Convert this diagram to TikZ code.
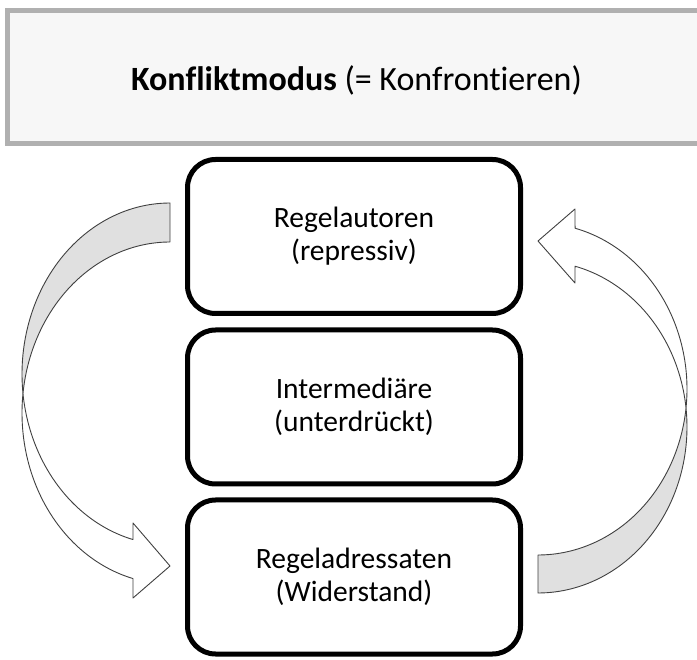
\documentclass[tikz,border=0pt]{standalone}
\usepackage{fontspec}
\setmainfont{Carlito}[Ligatures=CommonOff]
\definecolor{headfill}{HTML}{F7F7F7}
\definecolor{headline}{HTML}{B0B0B0}
\definecolor{tailgray}{HTML}{E0E0E0}
\definecolor{arrowline}{HTML}{404040}
\tikzset{
  stagebox/.style={draw=black, line width=5pt, rounded corners=28pt, fill=white,
    minimum width=333pt, minimum height=154pt, align=center,
    font=\fontsize{29.5}{33}\selectfont},
  headbox/.style={draw=headline, fill=headfill, line width=5pt},
  arrowedge/.style={draw=arrowline, line width=0.9pt, line join=round},
}
\begin{document}
\begin{tikzpicture}[x=1pt, y=-1pt]
\useasboundingbox (0,0) rectangle (697,660);
\fill[white] (0,0) rectangle (697,660);
% header
\draw[headbox] (7,10.5) rectangle (710,143.5);
\node[font=\fontsize{34}{40}\selectfont] (title) at (356.5,80) {\textbf{Konfliktmodus} (= Konfrontieren)};
% boxes
\node[stagebox] (autoren) at (354,236.5) {Regelautoren\\(repressiv)};
\node[stagebox] (inter) at (354,407) {Intermediäre\\(unterdrückt)};
\node[stagebox] (adress) at (354,577) {Regeladressaten\\(Widerstand)};
% left curved arrow: gray tail
\draw[arrowedge, fill=tailgray]
  plot[domain=270:173.45, samples=60, variable=\t] ({170+148*cos(\t)}, {374+171*sin(\t)})
  -- plot[domain=186.55:270, samples=60, variable=\t] ({170+148*cos(\t)}, {413+171*sin(\t)})
  -- cycle;
% left curved arrow: white head part
\draw[arrowedge, fill=white]
  plot[domain=186.55:104.48, samples=60, variable=\t] ({170+148*cos(\t)}, {413+171*sin(\t)})
  -- (133,598) -- (170,566) -- (133,523)
  -- plot[domain=104.48:173.45, samples=60, variable=\t] ({170+148*cos(\t)}, {374+171*sin(\t)})
  -- cycle;
% right curved arrow: gray tail
\draw[arrowedge, fill=tailgray]
  plot[domain=90:-6.57, samples=60, variable=\t] ({538+149*cos(\t)}, {427+166*sin(\t)})
  -- plot[domain=6.57:90, samples=60, variable=\t] ({538+149*cos(\t)}, {389+166*sin(\t)})
  -- cycle;
% right curved arrow: white head part
\draw[arrowedge, fill=white]
  plot[domain=6.57:-75.6, samples=60, variable=\t] ({538+149*cos(\t)}, {389+166*sin(\t)})
  -- (575,209) -- (538,241) -- (575,283)
  -- plot[domain=-75.6:-6.57, samples=60, variable=\t] ({538+149*cos(\t)}, {427+166*sin(\t)})
  -- cycle;
\end{tikzpicture}
\end{document}
